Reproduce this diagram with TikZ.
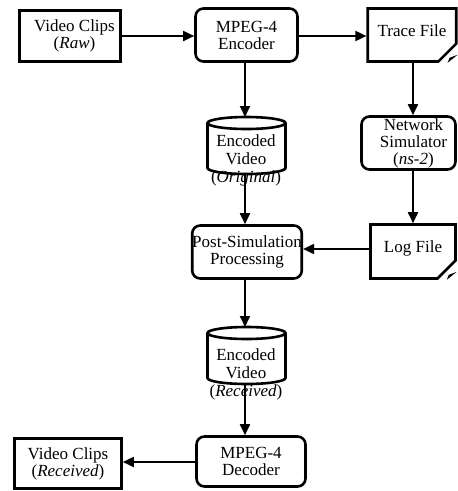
\documentclass[tikz,border=0pt]{standalone}
\usepackage{fontspec}
\setmainfont{Liberation Serif}
\usetikzlibrary{arrows.meta,shapes.misc,calc}
\begin{document}
\begin{tikzpicture}[x=1pt,y=-1pt,
  box/.style={draw,line width=2.6pt,inner sep=0pt,align=center,
    font=\fontsize{17}{17}\selectfont},
  rbox/.style={box,rounded corners=8pt},
  docbox/.style={box,chamfered rectangle,chamfered rectangle corners=south east,
    chamfered rectangle xsep=10pt,chamfered rectangle ysep=8pt},
  cyltext/.style={inner sep=0pt,align=center,font=\fontsize{17}{18}\selectfont},
  arr/.style={line width=1.8pt,-{Triangle[length=11pt,width=10pt]}}]
\useasboundingbox (0,0) rectangle (458,491);

% boxes
\node[box,minimum width=101pt,minimum height=51pt,font=\fontsize{17}{15}\selectfont] (vcraw) at (70,36) {\hspace*{9pt}Video Clips\\\hspace*{9pt}(\textit{Raw})};
\node[rbox,minimum width=102pt,minimum height=53pt] (enc) at (246.5,35) {MPEG-4\\Encoder};
\node[docbox,minimum width=85pt,minimum height=53pt,text height=11.6pt,text depth=8.2pt] (trace) at (412,35) {Trace File};
\node[rbox,minimum width=94pt,minimum height=53pt] (ns) at (408.5,143) {\hspace*{10pt}Network\\\hspace*{10pt}Simulator\\\hspace*{10pt}(\textit{ns-2})};
\node[rbox,minimum width=103pt,minimum height=53pt] (post) at (247,252) {Post-Simulation\\Processing};
\node[docbox,minimum width=85pt,minimum height=54pt,text height=11.6pt,text depth=10.6pt] (log) at (413,251.5) {Log File};
\node[rbox,minimum width=109pt,minimum height=50pt] (dec) at (251,461.5) {MPEG-4\\Decoder};
\node[box,minimum width=107pt,minimum height=50pt] (vcrec) at (68,463.5) {Video Clips\\(\textit{Received})};

% folds of document shapes
\fill ($(trace.east |- trace.south)+(-10,0)$) -- ($(trace.east |- trace.south)+(0,-8)$) -- ($(trace.east |- trace.south)+(-8,-5)$) -- cycle;
\fill ($(log.east |- log.south)+(-10,0)$) -- ($(log.east |- log.south)+(0,-8)$) -- ($(log.east |- log.south)+(-8,-5)$) -- cycle;

% cylinders
\draw[line width=2.6pt] (207.5,123) -- (207.5,168) arc[start angle=180,end angle=360,x radius=39,y radius=-6] -- (285.5,123);
\draw[line width=2.6pt] (246.5,123) ellipse[x radius=39,y radius=6];
\coordinate (cyl1top) at (245,117);
\coordinate (cyl1bot) at (245,174);
\node[cyltext] (cyl1t) at (246,160.9) {Encoded\\Video\\(\textit{Original})};

\draw[line width=2.6pt] (207.5,333) -- (207.5,378) arc[start angle=180,end angle=360,x radius=39,y radius=-6] -- (285.5,333);
\draw[line width=2.6pt] (246.5,333) ellipse[x radius=39,y radius=6];
\coordinate (cyl2top) at (245,327);
\coordinate (cyl2bot) at (245,384);
\node[cyltext] (cyl2t) at (246,374.5) {Encoded\\Video\\(\textit{Received})};

% connectors
\draw[arr] (vcraw.east |- 0,36) -- (enc.west |- 0,36);
\draw[arr] (enc.east |- 0,36) -- (trace.west |- 0,36);
\draw[arr] (enc.south -| cyl1top) -- (cyl1top);
\draw[arr] (trace.south -| 413,0) -- (ns.north -| 413,0);
\draw[arr] (cyl1bot) -- (cyl1bot |- post.north);
\draw[arr] (ns.south -| log.north) -- (log.north);
\draw[arr] (log.west |- 0,249) -- (post.east |- 0,249);
\draw[arr] (post.south -| cyl2top) -- (cyl2top);
\draw[arr] (cyl2bot) -- (cyl2bot |- dec.north);
\draw[arr] (dec.west |- 0,462) -- (vcrec.east |- 0,462);
\end{tikzpicture}
\end{document}
